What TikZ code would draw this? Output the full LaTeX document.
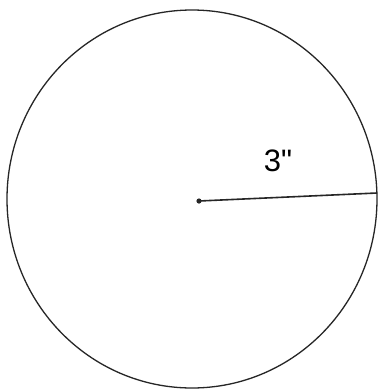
\documentclass[tikz,border=0pt]{standalone}
\usepackage{fontspec}
\newfontfamily\lblfont{Liberation Sans}
\begin{document}
\begin{tikzpicture}[x=1pt,y=-1pt,
  outline/.style={draw=black!85, line width=1.3pt},
  radius line/.style={draw=black!85, line width=1.6pt}]
\useasboundingbox[fill=white] (0,0) rectangle (378,392);
\draw[outline] (192,199) ellipse [x radius=185, y radius=189];
\coordinate (c) at (199,201);
\coordinate (e) at (377,193);
\fill[black!85] (c) circle (2.6);
\draw[radius line] (c) -- (e);
\node[font=\lblfont\fontsize{31}{31}\selectfont, inner sep=0pt] (lbl) at (278,161) {3"};
\end{tikzpicture}
\end{document}
